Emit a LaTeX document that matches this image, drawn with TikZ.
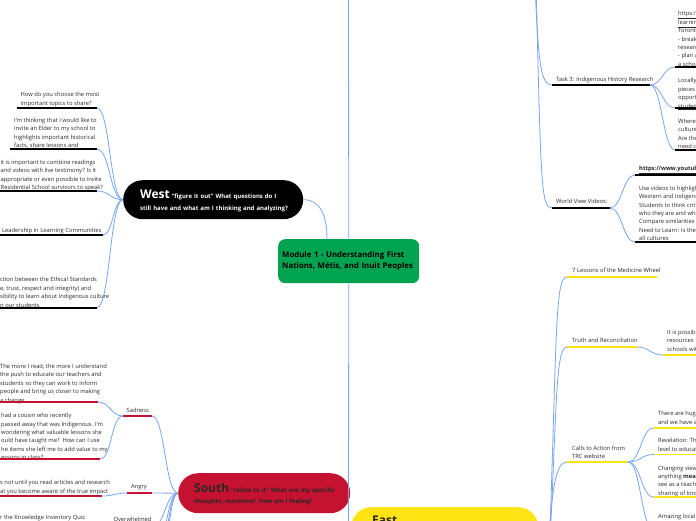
\documentclass[tikz,border=0pt]{standalone}
\usepackage{fontspec}
\setmainfont{Open Sans}
\definecolor{lineblue}{RGB}{120,165,240}
\definecolor{mgreen}{RGB}{0,163,80}
\definecolor{mred}{RGB}{196,18,48}
\definecolor{myellow}{RGB}{255,228,20}
\definecolor{txt}{RGB}{40,40,40}
\tikzset{
  conn/.style={draw=lineblue, line width=0.8pt},
  item/.style={font=\fontsize{5.8}{8.4}\selectfont, text=txt, align=left, inner xsep=3.5pt, inner ysep=0pt, anchor=base west},
  ulk/.style={line width=1.7pt, draw=black},
  ulr/.style={line width=1.7pt, draw=mred},
  uly/.style={line width=1.7pt, draw=myellow},
  pill/.style={anchor=north west, align=left, inner ysep=0pt}
}
\newcommand\mmul[5]{\draw[#1] (#2,#4) coordinate (#5s) -- (#3,#4) coordinate (#5e);}
\begin{document}
\begin{tikzpicture}[x=1pt,y=-1pt]
\useasboundingbox (0,0) rectangle (696,520);
\clip (0,0) rectangle (696,520);

% ---------- main nodes ----------
\node[pill, fill=mgreen, rounded corners=7pt, text width=133pt, inner xsep=4pt, minimum height=44pt,
      font=\fontsize{7.8}{11}\selectfont\bfseries, text=black] (center) at (278,239)
  {\mbox{Module 1 - Understanding First}\\\mbox{Nations, Métis, and Inuit Peoples}};

\node[pill, fill=black, text=white, rounded corners=19.5pt, text width=146pt, inner xsep=17pt,
      minimum height=39pt, text height=12pt, font=\fontsize{6}{12}\selectfont\bfseries] (west) at (123,180)
  {\mbox{{\fontsize{12}{12}\selectfont West} “figure it out” What questions do I}\\\mbox{still have and what am I thinking and analyzing?}};

\node[pill, fill=mred, text=txt, rounded corners=20pt, text width=140pt, inner xsep=16pt,
      minimum height=40pt, text height=12pt, font=\fontsize{6}{11}\selectfont\bfseries] (south) at (178,473)
  {\mbox{{\fontsize{12}{11}\selectfont South} “relate to it” What are my specific}\\\mbox{thoughts, reactions? How am I feeling?}};

\node[pill, fill=myellow, text=txt, rounded corners=20pt, text width=145pt, inner xsep=21pt,
      minimum height=40pt, text depth=13.3pt, font=\fontsize{12}{12}\selectfont\bfseries] (east) at (351,507) {East};

% ---------- root coordinates (off picture) ----------
\coordinate (nroot) at (348.5,-60);
\coordinate (sroot) at (348.5,580);
\coordinate (nR1) at (533,-60);
\coordinate (nR2) at (535,-60);
\coordinate (eR1) at (549,560);
\coordinate (eR2) at (547,560);
\coordinate (sx1) at (152,565);
\coordinate (sx2) at (152,600);
\coordinate (sx3) at (152,640);

\draw[conn] (center.north) -- (nroot);
\draw[conn] (center.south) -- (sroot);
\draw[conn] (west.east) .. controls +(16,0) and +(0,-25) .. ([xshift=49pt]center.north west);

% ---------- West ----------
\node[item] (w1) at (17,105) {How do you choose the most\\important topics to share?};
\mmul{ulk}{17}{97}{108}{w1}
\node[item] (w2) at (10.5,147.7) {I'm thinking that I would like to\\invite an Elder to my school to\\highlights important historical\\facts, share lessons and};
\mmul{ulk}{10}{97}{149.3}{w2}
\node[item] (w3) at (-3,189.7) {it is important to combine readings\\and videos with live testimony? Is it\\appropriate or even possible to invite\\Residential School survivors to speak?};
\mmul{ulk}{0}{97}{191}{w3}
\node[item] (w4) at (-1.5,232) {Leadership in Learning Communities};
\mmul{ulk}{0}{103}{235}{w4}
\node[item] (w5) at (-3.5,307) {ction between the Ethical Standards\\e, trust, respect and integrity) and\\sibility to learn about Indigenous culture\\n our students};
\mmul{ulk}{0}{97}{307.7}{w5}

\foreach \n/\d in {w1/13,w2/13,w3/13,w4/10,w5/13}
  \draw[conn] (west.west) .. controls +(-\d,0) and +(\d,0) .. (\n e);

% ---------- South ----------
\node[item] (sad) at (123,412) {Sadness};
\mmul{ulr}{123}{152}{416}{sad}
\node[item] (s1) at (-3.5,402) {The more I read, the more I understand\\the push to educate our teachers and\\students so they can work to inform\\people and bring us closer to making\\a change};
\mmul{ulr}{0}{98}{402}{s1}
\node[item] (s2) at (-2.5,459.7) {had a cousin who recently\\passed away that was Indigenous. I'm\\wondering what valuable lessons she\\ould have taught me?\ \ How can I use\\he items she left me to add value to my\\essons in class?};
\mmul{ulr}{0}{100}{459}{s2}
\node[item] (ang) at (127.5,488.5) {Angry};
\mmul{ulr}{127}{152}{493}{ang}
\node[item] (a1) at (-3.5,493) {s not until you read articles and research\\at you become aware of the true impact};
\mmul{ulr}{0}{102}{496}{a1}
\node[item] (ovw) at (109.8,521.5) {Overwhelmed};
\mmul{ulr}{109}{152}{527}{ovw}
\node[item] (k1) at (-3.5,519.3) {r the Knowledge Inventory Quiz};
\mmul{ulr}{0}{100}{530}{k1}

\foreach \n in {sade,ange,ovwe,sx1,sx2,sx3}
  \draw[conn] (south.west) .. controls +(-13,0) and +(13,0) .. (\n);
\draw[conn] (sads) .. controls +(-12,0) and +(12,0) .. (s1e);
\draw[conn] (sads) .. controls +(-12,0) and +(12,0) .. (s2e);
\draw[conn] (angs) .. controls +(-12,0) and +(12,0) .. (a1e);
\draw[conn] (ovws) .. controls +(-5,0) and +(5,0) .. (k1e);

% ---------- North side (right, top) ----------
\node[item] (t3) at (552.5,81) {Task 3: Indigenous History Research};
\mmul{ulk}{552}{650}{85}{t3}
\node[item] (t3a) at (674.5,66.3) {\underline{https://}\\\underline{learning}\\Toronto\\- break\\research\\- plan a\\a school};
\mmul{ulk}{675}{700}{67}{t3a}
\node[item] (t3b) at (674.5,108) {Locally\\pieces\\opportu\\\underline{students}};
\mmul{ulk}{675}{700}{108}{t3b}
\node[item] (t3c) at (674.5,148.7) {Where\\culture\\Are the\\need c};
\mmul{ulk}{675}{700}{150}{t3c}
\node[item] (wv) at (552.5,203) {World View Videos:};
\mmul{ulk}{552}{610}{208}{wv}
\node[item] (wva) at (635.5,170.3) {\underline{\textbf{https://www.youtube}}};
\mmul{ulk}{635}{700}{175}{wva}
\node[item] (wvb) at (635.5,240.7) {Use videos to highlight\\Western and Indigenous\\Students to think critically\\who they are and what\\Compare similarities\\Need to Learn: Is there\\all cultures};
\mmul{ulk}{635}{700}{242}{wvb}

\draw[conn] (nR1) .. controls +(5,110) and +(-14,0) .. (t3s);
\draw[conn] (nR2) .. controls +(6,240) and +(-12,0) .. (wvs);
\foreach \n in {t3as,t3bs,t3cs}
  \draw[conn] (t3e) .. controls +(12,0) and +(-12,0) .. (\n);
\foreach \n in {wvas,wvbs}
  \draw[conn] (wve) .. controls +(12,0) and +(-12,0) .. (\n);

% ---------- East ----------
\node[item] (l7) at (568.5,272.7) {7 Lessons of the Medicine Wheel};
\mmul{uly}{567}{657}{277}{l7}
\node[item] (tr) at (568.5,342) {Truth and Reconciliation};
\mmul{uly}{567}{637}{347}{tr}
\node[item] (tra) at (663.5,351) {It is possible\\resources\\schools with};
\mmul{uly}{663}{700}{355}{tra}
\node[item] (ca) at (568.5,458.7) {Calls to Action from\\TRC website};
\mmul{uly}{567}{628}{462}{ca}
\node[item] (caa) at (654.5,424.3) {There are huge\\and we have a};
\mmul{uly}{654}{700}{427.7}{caa}
\node[item] (cab) at (654.5,451) {Revelation: The\\level to educate};
\mmul{uly}{654}{700}{454.5}{cab}
\node[item] (cac) at (654.5,495.3) {Changing views\\anything \textbf{meaning}\\see as a teacher\\sharing of know};
\mmul{uly}{654}{700}{497.3}{cac}
\node[item] (cad) at (654.5,518) {Amazing local};
\mmul{uly}{654}{700}{530}{cad}

\draw[conn] (eR1) .. controls +(8,-230) and +(-12,0) .. (l7s);
\draw[conn] (eR1) .. controls +(8,-150) and +(-12,0) .. (trs);
\draw[conn] (eR2) .. controls +(5,-70) and +(-12,0) .. (cas);
\draw[conn] (tre) .. controls +(13,0) and +(-13,0) .. (tras);
\foreach \n in {caas,cabs,cacs,cads}
  \draw[conn] (cae) .. controls +(13,0) and +(-13,0) .. (\n);
\end{tikzpicture}
\end{document}
